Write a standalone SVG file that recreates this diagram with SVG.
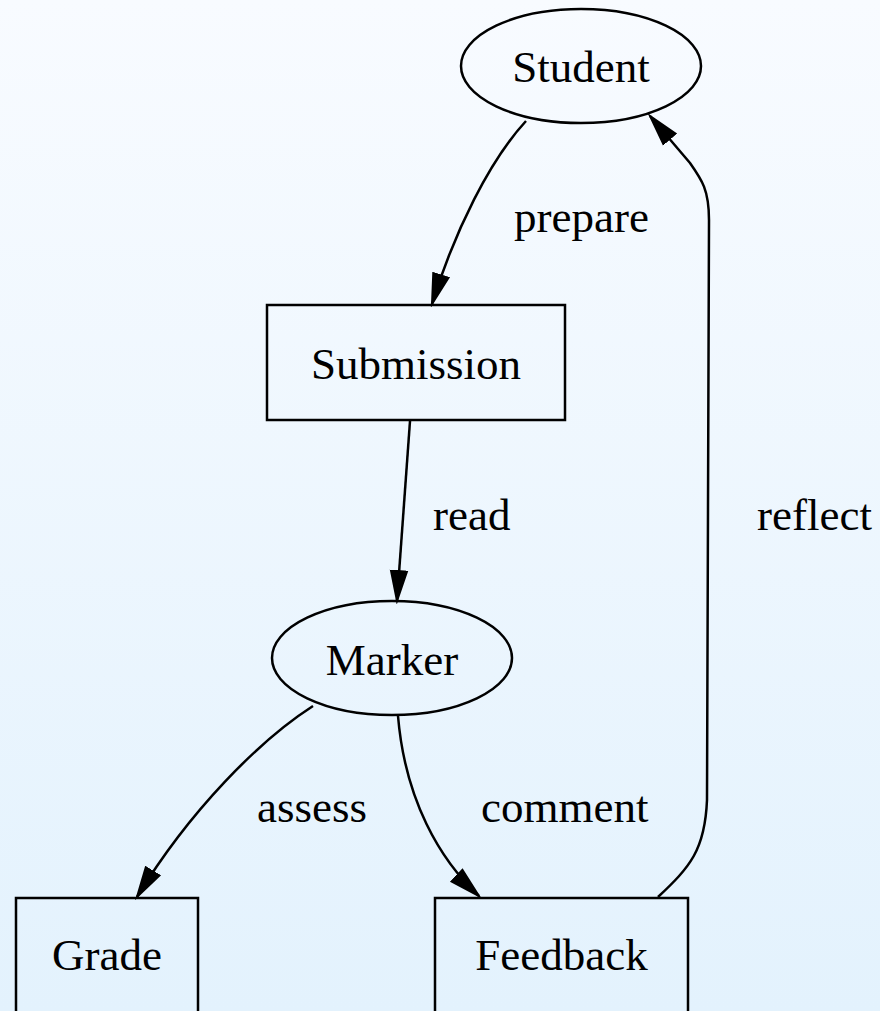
<svg xmlns="http://www.w3.org/2000/svg" width="880" height="1011" viewBox="0 0 880 1011">
<defs>
<linearGradient id="bg" x1="0" y1="0" x2="0" y2="1">
<stop offset="0" stop-color="#f8fbff"/>
<stop offset="1" stop-color="#e3f2fd"/>
</linearGradient>
<marker id="arr" markerUnits="userSpaceOnUse" markerWidth="34" markerHeight="22" viewBox="0 -11 34 22" refX="31" refY="0" orient="auto">
<path d="M1,-8 L31,0 L1,8 z" fill="#000" stroke="#000" stroke-width="2"/>
</marker>
<style>
.shape{fill:none;stroke:#000;stroke-width:2.5}
.edge{fill:none;stroke:#000;stroke-width:2.5;marker-end:url(#arr)}
text{font-family:"Liberation Serif","Times New Roman",serif;font-size:45px;fill:#000}
.c{text-anchor:middle}
</style>
</defs>
<rect x="0" y="0" width="880" height="1011" fill="url(#bg)"/>
<g id="connectors">
<g id="e-prepare">
<path class="edge" d="M526,121 C490,160 455,230 432,304"/>
<text x="514" y="232">prepare</text>
</g>
<g id="e-read">
<path class="edge" d="M410,421 C406,480 401,540 397,601"/>
<text x="433" y="530">read</text>
</g>
<g id="e-assess">
<path class="edge" d="M313,706 C260,740 190,810 137,897"/>
<text x="257" y="822">assess</text>
</g>
<g id="e-comment">
<path class="edge" d="M398,716 C405,800 440,860 479,896"/>
<text x="481" y="822">comment</text>
</g>
<g id="e-reflect">
<path class="edge" d="M658,897 C690,867 705,850 707,800 L709,220 C709,190 702,180 690,163 L650,116"/>
<text x="757" y="530">reflect</text>
</g>
</g>
<g id="student">
<ellipse class="shape" cx="581" cy="66" rx="120" ry="57"/>
<text class="c" x="581" y="82">Student</text>
</g>
<g id="submission">
<rect class="shape" x="267" y="305" width="298" height="115"/>
<text class="c" x="416" y="379">Submission</text>
</g>
<g id="marker">
<ellipse class="shape" cx="392" cy="658" rx="120" ry="57"/>
<text class="c" x="392" y="675">Marker</text>
</g>
<g id="grade">
<rect class="shape" x="16" y="898" width="182" height="115"/>
<text class="c" x="107" y="970">Grade</text>
</g>
<g id="feedback">
<rect class="shape" x="435" y="898" width="253" height="115"/>
<text class="c" x="561.5" y="970">Feedback</text>
</g>
</svg>
